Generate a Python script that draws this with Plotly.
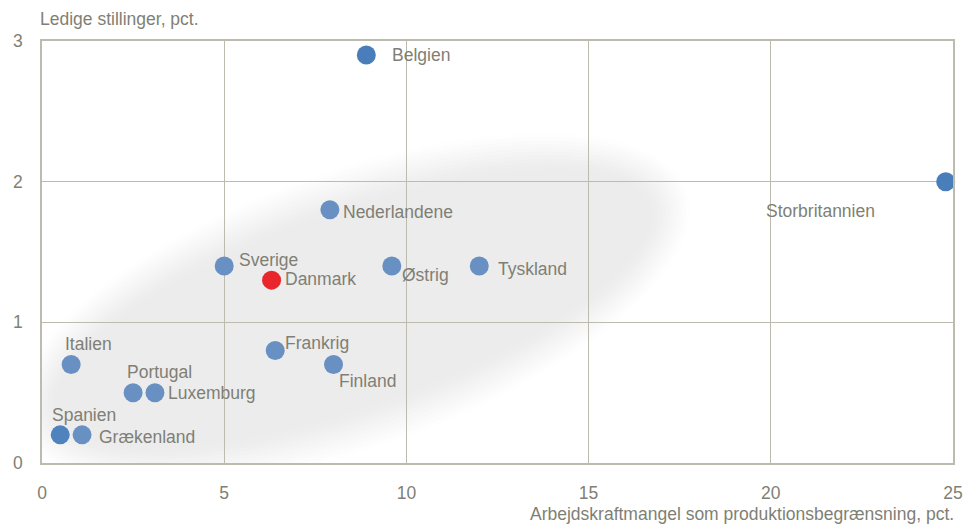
import math
import plotly.graph_objects as go

# ---- data ----
countries = ["Belgien", "Storbritannien", "Nederlandene", "Sverige", "Danmark", "Østrig",
             "Tyskland", "Frankrig", "Finland", "Italien", "Portugal", "Luxemburg",
             "Spanien", "Grækenland"]
x_labour = [8.9, 24.8, 7.9, 5.0, 6.3, 9.6, 12.0, 6.4, 8.0, 0.8, 2.5, 3.1, 0.5, 1.1]
y_vacancy = [2.9, 2.0, 1.8, 1.4, 1.3, 1.4, 1.4, 0.8, 0.7, 0.7, 0.5, 0.5, 0.2, 0.2]
x_ticks = [0, 5, 10, 15, 20, 25]
y_ticks = [0, 1, 2, 3]

# ---- styling ----
W, H = 965, 524
ML, MR, MT, MB = 42, 12, 41, 61
PW, PH = W - ML - MR, H - MT - MB
XR, YR = (0, 25), (0, 3)
FONT = "Liberation Sans, Arial, sans-serif"
FS = 17.5
TXT = "#7f7f75"
GRID = "#bcbbae"

colour_map = {"Belgien": "#4a7ebb", "Storbritannien": "#4a7ebb", "Danmark": "#e8262b",
              "Spanien": "#5082bd"}
colours = [colour_map.get(c, "#6890c2") for c in countries]

# label offsets (px) relative to the marker: (xshift, yshift, xanchor)
label_pos = {
    "Belgien": (24, 0, "left"), "Storbritannien": (-125, -29, "center"),
    "Nederlandene": (11, -2, "left"), "Sverige": (13, 6, "left"),
    "Danmark": (11, 1, "left"), "Østrig": (8, -9, "left"),
    "Tyskland": (17, -3, "left"), "Frankrig": (8, 7, "left"),
    "Finland": (3, -16, "left"), "Italien": (-8, 21, "left"),
    "Portugal": (-8, 21, "left"), "Luxemburg": (11, 0, "left"),
    "Spanien": (-10, 20, "left"), "Grækenland": (15, -2, "left"),
}


def px_to_data(px, py):
    return (XR[0] + (px - ML) / PW * (XR[1] - XR[0]),
            YR[0] + (MT + PH - py) / PH * (YR[1] - YR[0]))


def ellipse_path(cx, cy, a, b, ang, n=90):
    t = math.radians(ang)
    pts = []
    for i in range(n):
        u = 2 * math.pi * i / n
        ex, ey = a * math.cos(u), b * math.sin(u)
        px = cx + ex * math.cos(t) + ey * math.sin(t)
        py = cy - ex * math.sin(t) + ey * math.cos(t)
        dx, dy = px_to_data(px, py)
        pts.append(f"{dx:.4f},{dy:.4f}")
    return "M " + " L ".join(pts) + " Z"


shapes = []
E_CX, E_CY, E_A, E_B, E_ANG = 353, 309, 332, 116, 19.5
levels = [(22, 254), (18, 252), (14, 250), (10, 248), (6, 246), (2, 244),
          (-2, 242), (-6, 240), (-10, 238), (-14, 237), (-18, 236)]
for d, g in levels:
    shapes.append(dict(type="path", xref="x", yref="y", layer="below",
                       path=ellipse_path(E_CX, E_CY, E_A + d, E_B + d, E_ANG),
                       fillcolor=f"rgb({g},{g},{g})", line=dict(width=0)))

fig = go.Figure()
fig.add_trace(go.Scatter(
    x=x_labour, y=y_vacancy, mode="markers", text=countries,
    marker=dict(size=19, color=colours, line=dict(width=0)),
    cliponaxis=False, hoverinfo="text", showlegend=False))

annotations = []
for c, xv, yv in zip(countries, x_labour, y_vacancy):
    xs, ys, anc = label_pos[c]
    annotations.append(dict(x=xv, y=yv, xref="x", yref="y", text=c, showarrow=False,
                            xanchor=anc, yanchor="middle", xshift=xs, yshift=ys,
                            font=dict(family=FONT, size=FS, color=TXT)))
annotations.append(dict(x=0, y=1, xref="paper", yref="paper", text="Ledige stillinger, pct.",
                        showarrow=False, xanchor="left", yanchor="bottom", xshift=-4, yshift=10,
                        font=dict(family=FONT, size=FS, color=TXT)))
annotations.append(dict(x=1, y=0, xref="paper", yref="paper",
                        text="Arbejdskraftmangel som produktionsbegrænsning, pct.",
                        showarrow=False, xanchor="right", yanchor="top", xshift=3, yshift=-39,
                        font=dict(family=FONT, size=FS, color=TXT)))

fig.update_layout(
    width=W, height=H, margin=dict(l=ML, r=MR, t=MT, b=MB, autoexpand=False),
    paper_bgcolor="white", plot_bgcolor="white",
    shapes=shapes, annotations=annotations,
    xaxis=dict(range=list(XR), tickvals=x_ticks, showgrid=True, gridcolor=GRID, gridwidth=1,
               zeroline=False, showline=True, linecolor=GRID, linewidth=1.5, mirror=True,
               ticks="outside", ticklen=13, tickcolor="rgba(0,0,0,0)", automargin=False,
               tickfont=dict(family=FONT, size=FS, color=TXT)),
    yaxis=dict(range=list(YR), tickvals=y_ticks, showgrid=True, gridcolor=GRID, gridwidth=1,
               zeroline=False, showline=True, linecolor=GRID, linewidth=1.5, mirror=True,
               ticks="outside", ticklen=14, tickcolor="rgba(0,0,0,0)", automargin=False,
               tickfont=dict(family=FONT, size=FS, color=TXT)),
    font=dict(family=FONT, color=TXT),
)

fig.write_html("out.html", config={"displayModeBar": False},
               post_script="document.body.style.margin='0';document.body.style.overflow='hidden';")
